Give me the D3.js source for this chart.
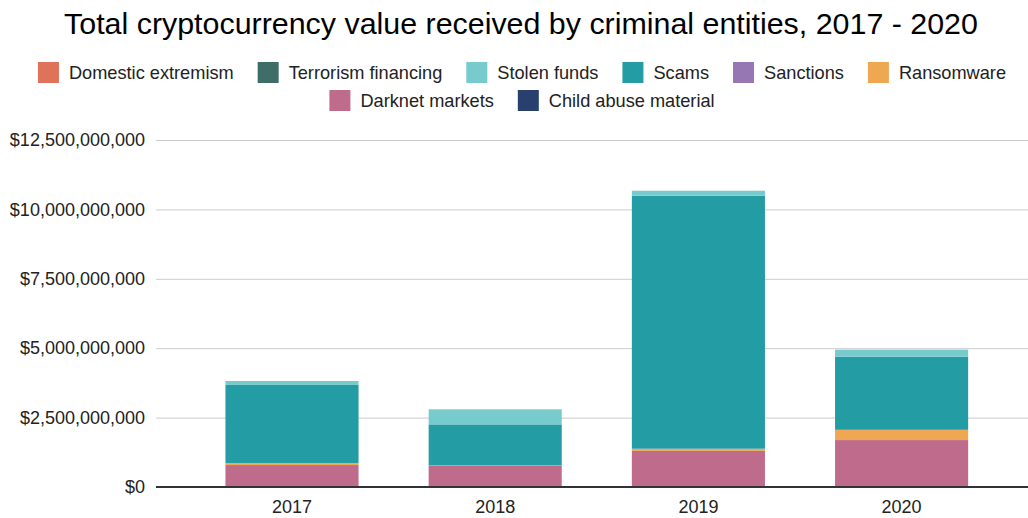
<!DOCTYPE html>
<html>
<head>
<meta charset="utf-8">
<script src="https://cdn.jsdelivr.net/npm/d3@7"></script>
<style>
  html, body { margin: 0; padding: 0; background: #fff; }
  svg { display: block; font-family: "Liberation Sans", Arial, sans-serif; }
</style>
</head>
<body>
<svg id="chart" width="1028" height="518"></svg>
<script>
// Years on the x axis
const years = ["2017", "2018", "2019", "2020"];

// Value received per category and year, in USD
const domesticExtremism  = [1000000, 1000000, 1000000, 1000000];
const terrorismFinancing = [2000000, 1000000, 1000000, 3000000];
const stolenFunds        = [140000000, 540000000, 180000000, 250000000];
const scams              = [2810000000, 1480000000, 9110000000, 2630000000];
const sanctions          = [5000000, 5000000, 10000000, 10000000];
const ransomware         = [70000000, 10000000, 70000000, 360000000];
const darknetMarkets     = [790000000, 760000000, 1300000000, 1690000000];
const childAbuseMaterial = [1000000, 1000000, 1000000, 1000000];

// Y axis tick values
const yTicks = [0, 2500000000, 5000000000, 7500000000, 10000000000, 12500000000];

// Legend order (top-left to bottom-right)
const seriesNames = ["Domestic extremism", "Terrorism financing", "Stolen funds", "Scams",
  "Sanctions", "Ransomware", "Darknet markets", "Child abuse material"];
const seriesValues = [domesticExtremism, terrorismFinancing, stolenFunds, scams,
  sanctions, ransomware, darknetMarkets, childAbuseMaterial];
const seriesColors = ["#df735a", "#3f6e68", "#77cbcd", "#239da3",
  "#9776b4", "#efa752", "#bf6b8b", "#293f6e"];

const rows = years.map((y, i) => {
  const r = { year: y };
  seriesNames.forEach((n, k) => { r[n] = seriesValues[k][i]; });
  return r;
});

// Stacked from the bottom in reverse legend order
const stackKeys = seriesNames.slice().reverse();
const stacked = d3.stack().keys(stackKeys)(rows);
const color = d3.scaleOrdinal().domain(seriesNames).range(seriesColors);

const svg = d3.select("#chart");
const plotLeft = 156, plotRight = 1028, plotTop = 140, plotBottom = 487;

const x = d3.scaleBand().domain(years).range([190.4, 1003.2])
  .paddingInner(0.345).paddingOuter(0.1725);
const y = d3.scaleLinear().domain([0, 12500000000]).range([plotBottom, plotTop]);

// Title
svg.append("text")
  .attr("x", 521).attr("y", 34)
  .attr("text-anchor", "middle")
  .attr("font-size", 30.4)
  .attr("fill", "#000")
  .text("Total cryptocurrency value received by criminal entities, 2017 - 2020");

// Legend, two centred rows
const legendRows = [seriesNames.slice(0, 6), seriesNames.slice(6)];
const legendY = [62, 90];
legendRows.forEach((names, ri) => {
  const g = svg.append("g");
  let cx = 0;
  names.forEach((n) => {
    const item = g.append("g").attr("transform", `translate(${cx},0)`);
    item.append("rect").attr("width", 21).attr("height", 21)
      .attr("y", legendY[ri]).attr("fill", color(n));
    const t = item.append("text").attr("x", 31).attr("y", legendY[ri] + 16.5)
      .attr("font-size", 18.2).attr("fill", "#222").text(n);
    cx += 31 + t.node().getComputedTextLength() + 24;
  });
  const w = cx - 24;
  g.attr("transform", `translate(${522 - w / 2},0)`);
});

// Gridlines and y axis labels
const yAxis = d3.axisLeft(y).tickValues(yTicks)
  .tickFormat(d => "$" + d3.format(",")(d))
  .tickSize(-(plotRight - plotLeft)).tickPadding(11);
const gy = svg.append("g").attr("transform", `translate(${plotLeft},0)`).call(yAxis);
gy.select(".domain").remove();
gy.selectAll(".tick line").attr("stroke", "#cccccc").attr("stroke-width", 1);
gy.selectAll(".tick text").attr("font-size", 18).attr("fill", "#222")
  .attr("font-family", "Liberation Sans, Arial, sans-serif");

// Stacked bars
svg.append("g").selectAll("g").data(stacked).join("g")
  .attr("fill", d => color(d.key))
  .selectAll("rect").data(d => d).join("rect")
  .attr("x", d => x(d.data.year))
  .attr("width", x.bandwidth())
  .attr("y", d => y(d[1]))
  .attr("height", d => y(d[0]) - y(d[1]));

// Baseline
svg.append("line")
  .attr("x1", plotLeft).attr("x2", plotRight)
  .attr("y1", y(0)).attr("y2", y(0))
  .attr("stroke", "#333").attr("stroke-width", 2);

// X axis labels
const xAxis = d3.axisBottom(x).tickSize(0).tickPadding(13);
const gx = svg.append("g").attr("transform", `translate(0,${plotBottom})`).call(xAxis);
gx.select(".domain").remove();
gx.selectAll(".tick text").attr("font-size", 18).attr("fill", "#222")
  .attr("font-family", "Liberation Sans, Arial, sans-serif");
</script>
</body>
</html>
